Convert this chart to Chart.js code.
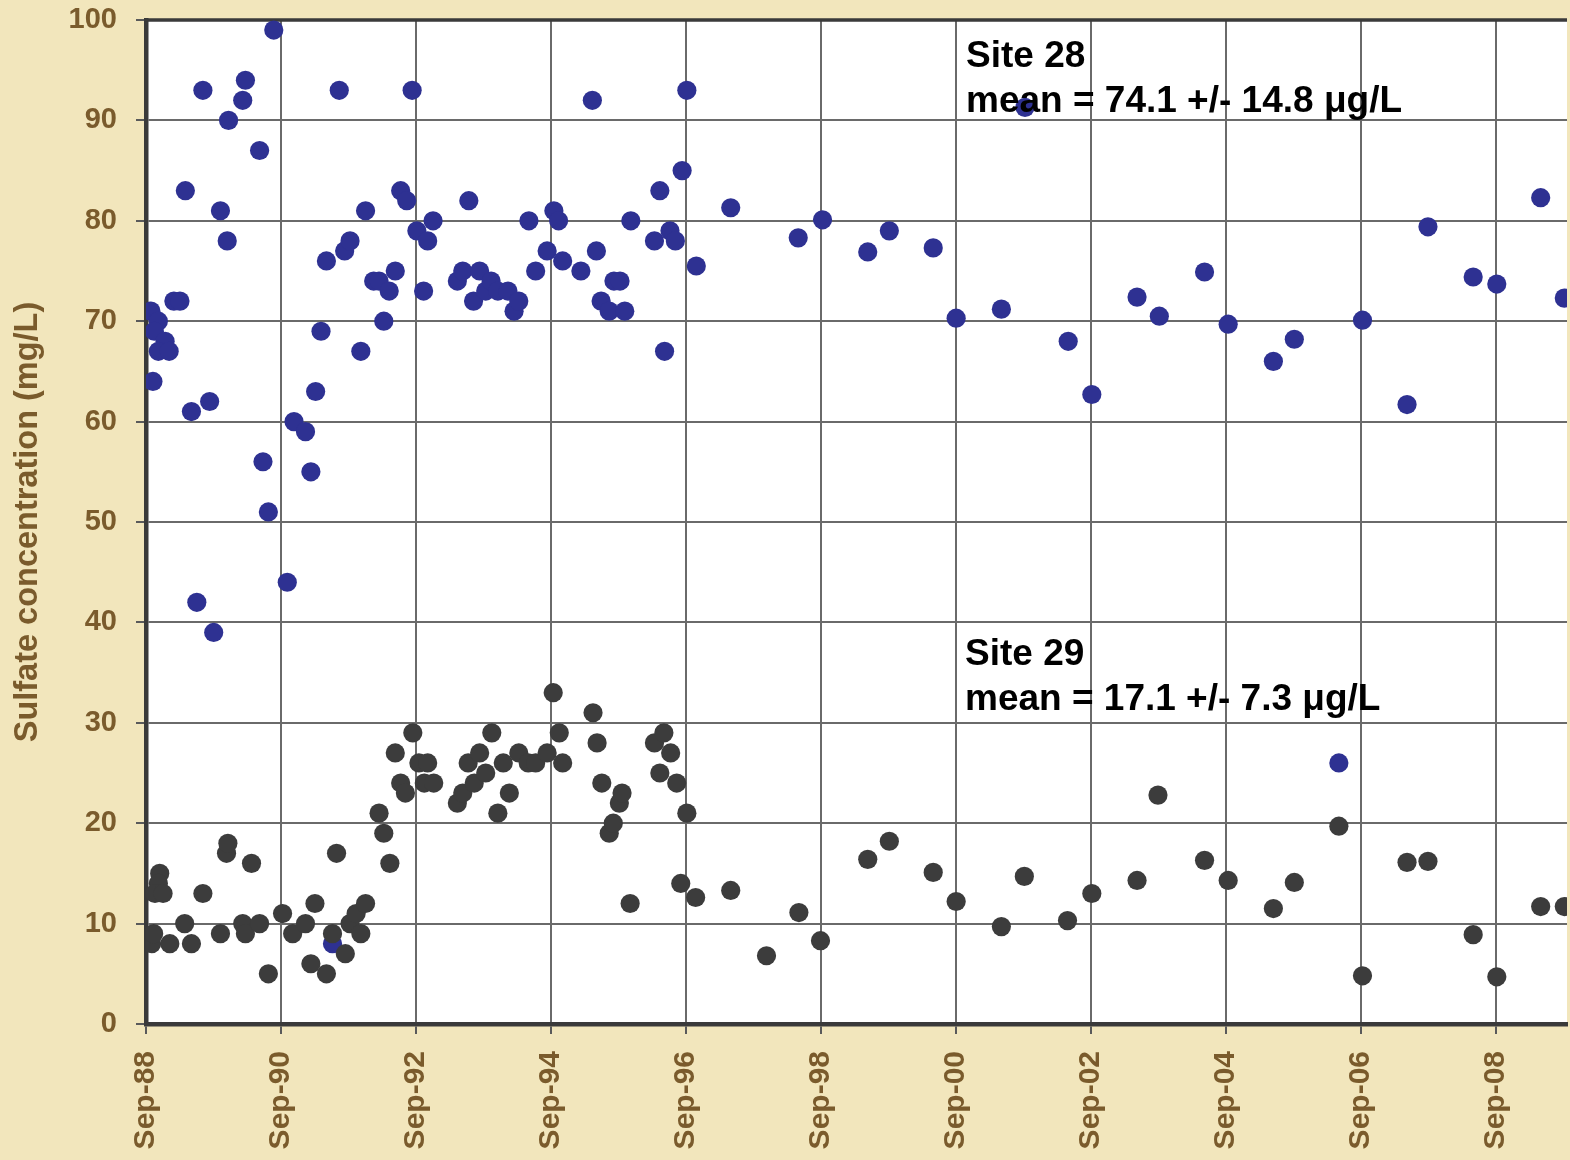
<!DOCTYPE html>
<html>
<head>
<meta charset="utf-8">
<title>Sulfate concentration, Sites 28 and 29</title>
<script src="https://cdn.jsdelivr.net/npm/chart.js@4/dist/chart.umd.min.js"></script>
<style>
  html, body { margin: 0; padding: 0; background: #F2E6BC; }
  #wrap { width: 1570px; height: 1160px; }
</style>
</head>
<body>
<div id="wrap"><canvas id="chart" width="1570" height="1160"></canvas></div>
<script>
// Sampling dates as decimal years, concentrations in mg/L
const site28Dates = [
  1988.74, 1988.85, 1988.79, 1988.95, 1988.85, 1989.01, 1988.77, 1989.08, 1989.17, 1989.25,
  1989.34, 1989.42, 1989.51, 1989.61, 1989.67, 1989.77, 1989.87, 1989.89, 1990.10, 1990.14,
  1990.35, 1990.40, 1990.48, 1990.56, 1990.76, 1990.86, 1991.03, 1991.11, 1991.18, 1991.26,
  1991.34, 1991.43, 1991.53, 1991.61, 1991.69, 1991.85, 1991.92, 1992.04, 1992.12, 1992.19,
  1992.27, 1992.36, 1992.44, 1992.53, 1992.61, 1992.68, 1992.78, 1992.84, 1992.92,
  1993.28, 1993.36, 1993.45, 1993.52, 1993.61, 1993.70, 1993.78, 1993.88, 1994.03, 1994.12,
  1994.19, 1994.34, 1994.44, 1994.61, 1994.71, 1994.78, 1994.84, 1995.11, 1995.28, 1995.34,
  1995.41, 1995.53, 1995.60, 1995.69, 1995.76, 1995.85, 1996.20, 1996.28, 1996.35, 1996.43,
  1996.51, 1996.61, 1996.68, 1996.82, 1997.33, 1998.33, 1998.69, 1999.36, 1999.68, 2000.33,
  2000.67, 2001.34, 2001.69, 2002.33, 2002.68, 2003.35, 2003.68, 2004.35, 2004.70, 2005.37,
  2005.68, 2006.34, 2006.69, 2007.35, 2007.66, 2008.33, 2008.68, 2009.33, 2009.68
];
const site28Values = [
  71, 70, 69, 68, 67, 67, 64, 72, 72, 83,
  61, 42, 93, 62, 39, 81, 78, 90, 92, 94,
  87, 56, 51, 99, 44, 60, 59, 55, 63, 69,
  76, 8, 93, 77, 78, 67, 81, 74, 74, 70,
  73, 75, 83, 82, 93, 79, 73, 78, 80,
  74, 75, 82, 72, 75, 73, 74, 73, 73, 71,
  72, 80, 75, 77, 81, 80, 76, 75, 92, 77,
  72, 71, 74, 74, 71, 80, 78, 83, 67, 79,
  78, 85, 93, 75.5, 81.3, 78.3, 80.1, 76.9, 79.0, 77.3,
  70.3, 71.2, 91.3, 68.0, 62.7, 72.4, 70.5, 74.9, 69.7, 66.0,
  68.2, 26.0, 70.1, 61.7, 79.4, 74.4, 73.7, 82.3, 72.3
];

const site29Dates = [
  1988.75, 1988.78, 1988.87, 1988.85, 1988.80, 1988.92, 1989.02, 1989.24, 1989.34, 1989.51,
  1989.77, 1989.86, 1989.88, 1990.10, 1990.14, 1990.23, 1990.35, 1990.48, 1990.69, 1990.84,
  1991.03, 1991.11, 1991.17, 1991.34, 1991.43, 1991.49, 1991.62, 1991.69, 1991.78, 1991.85,
  1991.92, 1992.12, 1992.19, 1992.28, 1992.36, 1992.44, 1992.51, 1992.62, 1992.71, 1992.84,
  1992.79, 1992.93, 1993.28, 1993.36, 1993.44, 1993.53, 1993.61, 1993.70, 1993.79, 1993.88,
  1993.96, 1994.05, 1994.19, 1994.33, 1994.44, 1994.61, 1994.70, 1994.79, 1994.84, 1995.29,
  1995.35, 1995.42, 1995.53, 1995.59, 1995.68, 1995.72, 1995.84, 1996.20, 1996.34, 1996.28,
  1996.44, 1996.53, 1996.68, 1996.59, 1996.81, 1997.33, 1997.86, 1998.34, 1998.66, 1999.36,
  1999.68, 2000.33, 2000.67, 2001.34, 2001.68, 2002.32, 2002.68, 2003.35, 2003.66, 2004.35,
  2004.70, 2005.37, 2005.68, 2006.34, 2006.69, 2007.35, 2007.66, 2008.33, 2008.68, 2009.33,
  2009.68
];
const site29Values = [
  8, 9, 15, 14, 13, 13, 8, 10, 8, 13,
  9, 17, 18, 10, 9, 16, 10, 5, 11, 9,
  10, 6, 12, 5, 9, 17, 7, 10, 11, 9,
  12, 21, 19, 16, 27, 24, 23, 29, 26, 26,
  24, 24, 22, 23, 26, 24, 27, 25, 29, 21,
  26, 23, 27, 26, 26, 27, 33, 29, 26, 31,
  28, 24, 19, 20, 22, 23, 12, 28, 29, 25,
  27, 24, 21, 14, 12.6, 13.3, 6.8, 11.1, 8.3, 16.4,
  18.2, 15.1, 12.2, 9.7, 14.7, 10.3, 13.0, 14.3, 22.8, 16.3,
  14.3, 11.5, 14.1, 19.7, 4.8, 16.1, 16.2, 8.9, 4.7, 11.7,
  11.7
];

// Axis ticks: every second September
const tickDates = [1988.667, 1990.667, 1992.667, 1994.667, 1996.667, 1998.667,
  2000.667, 2002.667, 2004.667, 2006.667, 2008.667];
const tickLabels = ['Sep-88', 'Sep-90', 'Sep-92', 'Sep-94', 'Sep-96', 'Sep-98',
  'Sep-00', 'Sep-02', 'Sep-04', 'Sep-06', 'Sep-08'];

const siteNotes = [
  { x: 966, y: 67, lines: ['Site 28', 'mean = 74.1 +/- 14.8 \u03bcg/L'] },
  { x: 965, y: 665, lines: ['Site 29', 'mean = 17.1 +/- 7.3 \u03bcg/L'] }
];

const toPoints = (xs, ys) => xs.map((x, i) => ({ x: x, y: ys[i] }));

const BROWN = '#7A5B2C';
const FONT = '"Liberation Sans", Arial, Helvetica, sans-serif';

const framePlugin = {
  id: 'frame',
  beforeDraw(chart) {
    const { ctx, chartArea: a } = chart;
    ctx.save();
    ctx.fillStyle = '#F2E6BC';
    ctx.fillRect(0, 0, chart.width, chart.height);
    ctx.fillStyle = '#FFFFFF';
    ctx.fillRect(a.left, a.top, a.right - a.left, a.bottom - a.top);
    ctx.restore();
  },
  beforeDatasetsDraw(chart) {
    const { ctx, chartArea: a } = chart;
    ctx.save();
    ctx.strokeStyle = '#3A3A3A';
    ctx.lineWidth = 3.5;
    ctx.beginPath();
    ctx.moveTo(a.left - 2, a.top);
    ctx.lineTo(a.right, a.top);
    ctx.stroke();
    ctx.restore();
  },
  afterDatasetsDraw(chart) {
    const { ctx } = chart;
    ctx.save();
    ctx.fillStyle = '#000000';
    ctx.font = 'bold 37px ' + FONT;
    ctx.textAlign = 'left';
    ctx.textBaseline = 'alphabetic';
    siteNotes.forEach(n => {
      n.lines.forEach((t, i) => ctx.fillText(t, n.x, n.y + i * 45));
    });
    ctx.restore();
  }
};

new Chart(document.getElementById('chart'), {
  type: 'scatter',
  data: {
    datasets: [
      {
        label: 'Site 29',
        data: toPoints(site29Dates, site29Values),
        backgroundColor: '#3C3C3C',
        borderWidth: 0,
        pointRadius: 9.6,
        pointHoverRadius: 9.6
      },
      {
        label: 'Site 28',
        data: toPoints(site28Dates, site28Values),
        backgroundColor: '#2E3192',
        borderWidth: 0,
        pointRadius: 9.6,
        pointHoverRadius: 9.6
      }
    ]
  },
  options: {
    responsive: false,
    animation: false,
    events: [],
    layout: { autoPadding: false, padding: { top: 20, right: 3, left: 0, bottom: 0 } },
    plugins: {
      legend: { display: false },
      tooltip: { enabled: false },
      title: { display: false }
    },
    scales: {
      x: {
        type: 'linear',
        min: 1988.667,
        max: 2009.72,
        afterFit(scale) {
          scale.height = 136;
          scale.paddingLeft = 0;
          scale.paddingRight = 0;
        },
        afterBuildTicks(scale) { scale.ticks = tickDates.map(v => ({ value: v })); },
        border: { display: true, color: '#3A3A3A', width: 4.5 },
        grid: { color: '#6A6A6A', lineWidth: 2, tickLength: 10, tickColor: '#5A5A5A', tickWidth: 2 },
        ticks: {
          autoSkip: false,
          minRotation: 90,
          maxRotation: 90,
          padding: 17,
          color: BROWN,
          font: { family: FONT, size: 30, weight: 'bold' },
          callback: (v, i) => tickLabels[i]
        }
      },
      y: {
        min: 0,
        max: 100,
        afterFit(scale) {
          scale.width = 146;
          scale.paddingTop = 0;
          scale.paddingBottom = 0;
        },
        border: { display: true, color: '#3A3A3A', width: 4.5 },
        grid: { color: '#6A6A6A', lineWidth: 2, tickLength: 10, tickColor: '#5A5A5A', tickWidth: 2 },
        ticks: {
          stepSize: 10,
          padding: 19,
          color: BROWN,
          font: { family: FONT, size: 29, weight: 'bold' }
        },
        title: {
          display: true,
          text: 'Sulfate concentration (mg/L)',
          color: BROWN,
          font: { family: FONT, size: 32.5, weight: 'bold' },
          padding: { top: 9, bottom: 0 }
        }
      }
    }
  },
  plugins: [framePlugin]
});
</script>
</body>
</html>
